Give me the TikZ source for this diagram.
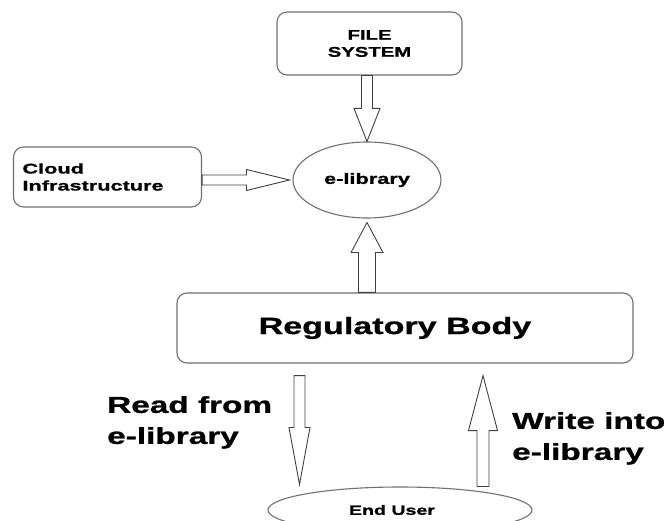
\documentclass[tikz,border=0pt]{standalone}
\usepackage{fontspec}
\newfontfamily\wfont[FakeStretch=1.45,FakeBold=1]{Liberation Sans}
\newfontfamily\wfontc[FakeStretch=1.55,FakeBold=1]{Liberation Sans}
\usetikzlibrary{calc,shapes.geometric}
\definecolor{edge}{HTML}{707070}
\definecolor{arrc}{HTML}{404040}
\tikzset{
  box/.style={draw=edge, line width=1.1pt, rounded corners=10pt, inner sep=0pt},
  oval/.style={draw=edge, line width=1.1pt, ellipse, inner sep=0pt},
  arr/.style={draw=arrc, line width=0.9pt, fill=white, line join=miter},
  fsmall/.style={font=\wfont\bfseries\fontsize{14}{17}\selectfont},
  flabel/.style={font=\wfont\bfseries\fontsize{23}{31}\selectfont, inner sep=0pt, align=left},
}
% block arrow: from, to, shaft half width, head half width, head length
\newcommand\barrow[5]{%
  \path ($(#2)!#5!(#1)$) coordinate (bh);
  \draw[arr] ($(#1)!#3!90:(#2)$) -- ($(bh)!#3!-90:(#1)$) -- ($(bh)!#4!-90:(#1)$)
    -- (#2) -- ($(bh)!#4!90:(#1)$) -- ($(bh)!#3!90:(#1)$) -- ($(#1)!#3!-90:(#2)$) -- cycle;
}
\begin{document}
\begin{tikzpicture}[x=1pt,y=-1pt]
\useasboundingbox (0,0) rectangle (664,521);
\clip (0,0) rectangle (664,521);

\node[box, fsmall, minimum width=185pt, minimum height=63pt, align=center] (fs) at (369.5,43.5) {FILE\\SYSTEM};
\node[box, font=\wfontc\bfseries\fontsize{14}{17}\selectfont, text width=170pt, minimum height=60pt, align=left, inner xsep=9pt] (cloud) at (107.5,177) {Cloud\\Infrastructure};
\node[oval, minimum width=148pt, minimum height=76pt, font=\wfont\bfseries\fontsize{15}{18}\selectfont] (elib) at (367,180) {e-library};
\node[box, minimum width=456pt, minimum height=70pt, font=\wfont\bfseries\fontsize{23.5}{28}\selectfont] (reg) at (405,328) {\hspace*{-20pt}Regulatory Body};
\node[oval, minimum width=264pt, minimum height=46pt, font=\wfont\bfseries\fontsize{13.5}{16}\selectfont] (eu) at (400,510) {\hspace*{-16pt}End User};

\node[flabel, anchor=north west] (rd) at (107,396) {Read from\\e-library};
\node[flabel, anchor=north west] (wr) at (512,412) {Write into\\e-library};

\coordinate (fsa) at (fs.south -| elib.north);
\barrow{fsa}{elib.north}{5.5pt}{13pt}{33pt}
\coordinate (cla) at (cloud.east |- elib.west);
\coordinate (clb) at ($(elib.west)+(-3,0)$);
\barrow{cla}{clb}{5pt}{10.5pt}{43pt}
\coordinate (rga) at (reg.north -| elib.south);
\coordinate (rgb) at ($(elib.south)+(0,4)$);
\barrow{rga}{rgb}{8.5pt}{16pt}{30pt}
\coordinate (r1) at ($(reg.south)+(-105.5,12)$);
\coordinate (r2) at ($(r1 |- eu.north)+(0,-2)$);
\barrow{r1}{r2}{5.5pt}{10.5pt}{57pt}
\coordinate (w2) at ($(reg.south)+(78,12)$);
\coordinate (w1) at (w2 |- eu.north);
\barrow{w1}{w2}{6pt}{14.5pt}{55pt}
\end{tikzpicture}
\end{document}
